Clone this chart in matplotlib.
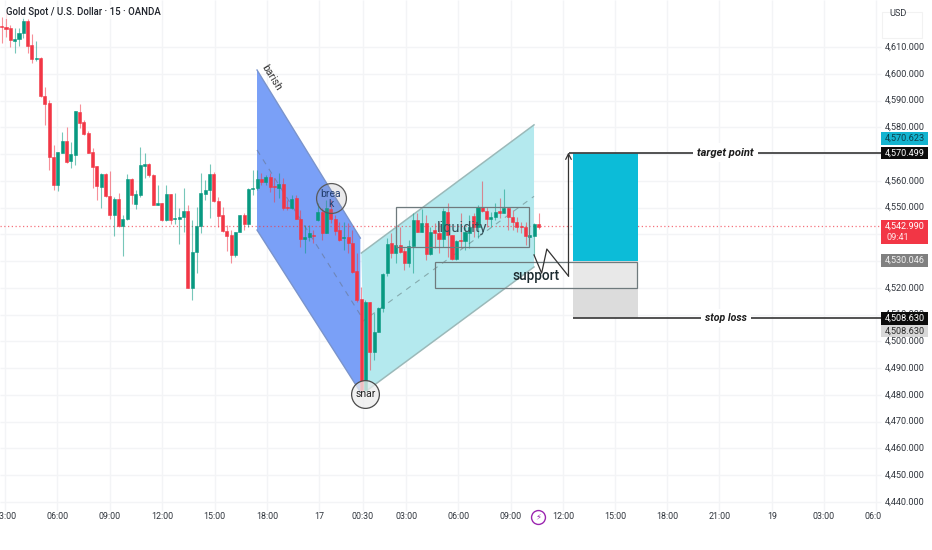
import matplotlib
matplotlib.use('Agg')
import matplotlib.pyplot as plt
from matplotlib.patches import Polygon, Rectangle

plt.rcParams['font.family'] = ['Roboto', 'DejaVu Sans']

# candles, 15 min bars
opens = [4617.8, 4617.3, 4617.1, 4612.4, 4613.1, 4615.4, 4619.8, 4610.6, 4605.4, 4605.9,
         4591.7, 4588.9, 4568.8, 4558.4, 4570.5, 4574.9, 4567.3, 4569.8, 4585.7, 4582.0,
         4577.7, 4570.8, 4565.5, 4557.8, 4562.5, 4554.4, 4547.1, 4553.2, 4543.1, 4545.8,
         4560.7, 4551.3, 4554.8, 4565.6, 4566.4, 4562.2, 4551.1, 4551.8, 4545.3, 4555.1,
         4545.6, 4545.7, 4546.6, 4548.8, 4519.8, 4533.3, 4543.1, 4555.1, 4556.6, 4562.5,
         4552.4, 4547.1, 4541.4, 4539.6, 4532.3, 4540.9, 4547.3, 4543.8, 4556.8, 4557.2,
         4560.7, 4559.4, 4561.5, 4558.0, 4557.2, 4558.8, 4550.1, 4549.7, 4553.4, 4545.7,
         4538.2, 4538.9, 4539.7, 4545.2, 4548.2, 4540.6, 4549.3, 4545.7, 4541.5, 4538.5,
         4538.9, 4536.9, 4526.3, 4515.8, 4481.8, 4514.7, 4495.9, 4503.6, 4512.5, 4525.4,
         4536.6, 4533.1, 4536.0, 4533.8, 4529.4, 4535.6, 4545.3, 4541.0, 4544.1, 4532.6,
         4541.6, 4540.6, 4538.1, 4548.5, 4539.7, 4530.6, 4537.7, 4537.4, 4540.4, 4546.8,
         4542.9, 4550.3, 4548.8, 4545.8, 4546.3, 4548.6, 4547.8, 4549.8, 4546.6, 4544.5,
         4543.1, 4542.8, 4539.1, 4539.4, 4543.7]
closes = [4617.6, 4616.8, 4612.6, 4612.9, 4615.4, 4619.8, 4610.4, 4605.4, 4605.8, 4591.7,
          4588.7, 4568.8, 4558.4, 4570.8, 4574.9, 4567.1, 4570.0, 4586.1, 4581.7, 4577.5,
          4570.5, 4565.3, 4558.0, 4562.5, 4554.3, 4547.1, 4553.2, 4543.1, 4545.8, 4560.7,
          4554.8, 4555.1, 4565.8, 4566.4, 4562.0, 4551.1, 4551.8, 4545.3, 4555.1, 4545.3,
          4546.0, 4546.6, 4548.8, 4519.8, 4533.3, 4543.1, 4555.3, 4556.6, 4562.5, 4552.3,
          4546.8, 4541.4, 4539.5, 4532.3, 4540.9, 4547.1, 4543.8, 4556.8, 4557.4, 4560.7,
          4559.4, 4561.5, 4557.8, 4557.6, 4558.8, 4549.7, 4549.7, 4553.1, 4545.7, 4538.2,
          4538.9, 4540.4, 4539.4, 4548.2, 4540.6, 4549.7, 4545.7, 4541.2, 4537.9, 4539.1,
          4536.9, 4526.0, 4515.4, 4481.8, 4514.7, 4495.9, 4503.6, 4512.5, 4525.2, 4536.4,
          4533.1, 4536.0, 4533.5, 4529.2, 4535.6, 4545.3, 4541.0, 4544.1, 4532.6, 4541.0,
          4540.4, 4538.1, 4548.8, 4539.7, 4530.6, 4537.6, 4537.4, 4541.0, 4542.9, 4542.9,
          4550.3, 4548.8, 4545.8, 4546.3, 4548.5, 4548.1, 4549.8, 4546.3, 4544.5, 4542.6,
          4542.6, 4539.4, 4539.6, 4543.8, 4542.9]
highs = [4621.3, 4623.2, 4618.2, 4617.0, 4617.0, 4621.3, 4620.3, 4614.7, 4612.4, 4606.1,
         4594.9, 4590.2, 4573.4, 4570.9, 4578.1, 4580.2, 4574.6, 4586.1, 4588.7, 4582.7,
         4578.7, 4572.1, 4565.6, 4562.8, 4563.0, 4563.8, 4554.1, 4555.6, 4547.2, 4562.5,
         4560.9, 4556.6, 4572.7, 4570.3, 4566.5, 4562.4, 4558.4, 4551.8, 4558.4, 4555.1,
         4555.3, 4549.7, 4557.4, 4551.0, 4545.3, 4550.3, 4562.8, 4560.3, 4566.3, 4563.4,
         4553.8, 4550.3, 4543.5, 4541.6, 4540.9, 4547.2, 4547.8, 4557.2, 4564.0, 4564.0,
         4562.8, 4562.2, 4562.8, 4560.9, 4562.8, 4560.9, 4552.8, 4554.7, 4554.7, 4549.1,
         4543.5, 4543.5, 4541.6, 4551.6, 4549.7, 4552.8, 4552.8, 4547.2, 4544.7, 4544.5,
         4544.1, 4541.6, 4532.9, 4520.4, 4515.4, 4514.8, 4510.5, 4513.0, 4525.4, 4538.5,
         4540.4, 4542.2, 4542.9, 4534.8, 4537.9, 4547.8, 4547.8, 4549.3, 4547.2, 4542.9,
         4544.1, 4544.7, 4549.7, 4551.6, 4539.7, 4537.9, 4547.8, 4542.9, 4547.2, 4547.8,
         4551.0, 4560.0, 4550.1, 4548.5, 4551.6, 4553.4, 4556.8, 4550.3, 4549.1, 4546.6,
         4544.7, 4544.7, 4539.6, 4544.1, 4547.8]
lows = [4611.6, 4613.9, 4610.1, 4607.6, 4610.4, 4613.2, 4607.6, 4604.1, 4604.9, 4591.4,
        4580.8, 4564.0, 4556.6, 4556.3, 4570.3, 4566.5, 4564.7, 4565.9, 4579.6, 4577.1,
        4570.5, 4557.4, 4552.8, 4549.7, 4554.1, 4545.6, 4539.4, 4542.9, 4531.9, 4545.3,
        4551.3, 4549.5, 4554.1, 4560.9, 4561.5, 4551.0, 4551.0, 4544.9, 4544.9, 4543.9,
        4543.9, 4536.2, 4541.0, 4519.8, 4515.4, 4525.4, 4540.4, 4552.8, 4546.0, 4552.2,
        4542.8, 4541.0, 4533.9, 4529.4, 4531.6, 4540.8, 4541.6, 4542.8, 4554.7, 4556.6,
        4558.4, 4558.4, 4555.9, 4552.2, 4553.4, 4549.1, 4549.1, 4549.3, 4545.6, 4535.4,
        4533.1, 4537.6, 4536.6, 4545.1, 4537.9, 4540.4, 4544.1, 4539.7, 4537.6, 4534.1,
        4532.9, 4525.4, 4514.8, 4481.8, 4481.8, 4489.3, 4493.0, 4503.6, 4511.1, 4524.4,
        4531.0, 4529.2, 4532.9, 4526.7, 4527.9, 4525.4, 4541.0, 4541.0, 4530.4, 4532.3,
        4534.8, 4533.1, 4535.4, 4531.6, 4530.4, 4530.4, 4534.8, 4534.1, 4534.8, 4539.1,
        4538.5, 4548.5, 4542.9, 4542.9, 4545.3, 4546.0, 4547.8, 4541.6, 4541.6, 4541.0,
        4540.4, 4536.0, 4539.1, 4532.3, 4541.9]

# axis labels
y_ticks = [4610, 4600, 4590, 4580, 4570, 4560, 4550, 4540, 4530, 4520, 4510, 4500, 4490, 4480, 4470, 4460, 4450, 4440]
y_hidden = [4570, 4540, 4530]   # sit fully behind the price flags
time_pos = [0.8, 12.85, 25.0, 37.1, 49.2, 61.3, 73.3, 83.4, 93.4, 105.4, 117.6, 129.6, 141.6, 153.7, 165.7, 177.9, 189.9, 201.9]
time_labels = ['03:00', '06:00', '09:00', '12:00', '15:00', '18:00', '17', '00:30', '03:00', '06:00', '09:00',
               '12:00', '15:00', '18:00', '21:00', '19', '03:00', '06:00']

# drawings (bar number, price)
bear_channel = [(58.97, 4601.4), (82.83, 4538.6), (82.83, 4481.1), (58.97, 4541.6)]
bear_mid = [(58.97, 4571.5), (82.83, 4509.9)]
bull_channel = [(83.05, 4533.0), (122.94, 4580.9), (122.94, 4527.8), (83.9, 4481.1)]
bull_mid = [(83.05, 4507.1), (122.94, 4554.2)]
liquidity_box = (91.0, 121.85, 4535.1, 4550.3)
support_box = (100.0, 146.8, 4519.8, 4529.5)
pos_x = (131.95, 146.9)
target, entry, stop = 4570.499, 4530.046, 4508.63
last_price = 4542.99
zigzag = [(122.94, 4532.3), (124.7, 4525.5), (125.9, 4534.5), (130.9, 4524.4), (130.9, 4570.6)]

RED = '#f23645'
GREEN = '#089981'
SCALE_X = 203.1   # left edge of price scale

fig = plt.figure(figsize=(9.32, 5.5), dpi=100)
ax = fig.add_axes([0, 0, 1, 1])
ax.set_xlim(-0.386, 214.85)
ax.set_ylim(4422.04, 4627.56)
ax.axis('off')

# grid
ax.hlines(y_ticks, -0.386, SCALE_X, color='#f3f4f6', lw=1, zorder=1)
ax.vlines(time_pos, 4436.5, 4627.56, color='#f3f4f6', lw=1, zorder=1)

# channels
ax.add_patch(Polygon(bear_channel, fc='#7aa0f7', ec='none', zorder=2))
ax.add_patch(Polygon(bull_channel, fc='#b4e9ee', ec='none', zorder=2))
for a, b in [(bear_channel[0], bear_channel[1]), (bear_channel[3], bear_channel[2])]:
    ax.plot([a[0], b[0]], [a[1], b[1]], color='#7a94cc', lw=1, zorder=2.5)
for a, b in [(bull_channel[0], bull_channel[1]), (bull_channel[3], bull_channel[2])]:
    ax.plot([a[0], b[0]], [a[1], b[1]], color='#9bb9b9', lw=1.1, zorder=2.5)
ax.plot(*zip(*bear_mid), color='#6f86b8', lw=0.8, ls=(0, (5, 5)), zorder=2.5)
ax.plot(*zip(*bull_mid), color='#86abae', lw=0.8, ls=(0, (5, 5)), zorder=2.5)

ax.hlines(last_price, -0.386, SCALE_X, color=RED, lw=0.9, ls=(0, (1, 2)), alpha=0.7, zorder=2.6)

# long position block
ax.add_patch(Rectangle((pos_x[0], entry), pos_x[1] - pos_x[0], target - entry, fc='#0cbcd8', ec='none', zorder=3))
ax.add_patch(Rectangle((pos_x[0], stop), pos_x[1] - pos_x[0], entry - stop, fc='#dcdcdc', ec='none', zorder=3))

# candles
for i in range(len(opens)):
    col = GREEN if closes[i] >= opens[i] else RED
    ax.vlines(i, lows[i], highs[i], color=col, lw=0.8, alpha=0.55, zorder=4)
    ax.bar(i, abs(closes[i] - opens[i]), bottom=min(opens[i], closes[i]), width=0.7,
           color=col, edgecolor=col, linewidth=0.4, zorder=4.2)

# boxes
x0, x1, y0, y1 = liquidity_box
ax.add_patch(Rectangle((x0, y0), x1 - x0, y1 - y0, fc='none', ec='#6f7a7d', lw=0.9, zorder=5))
x0, x1, y0, y1 = support_box
# support box only shows its fill where it crosses the stop zone
ax.add_patch(Rectangle((pos_x[0], y0), x1 - pos_x[0], y1 - y0, fc=(1, 1, 1, 0.35), ec='none', zorder=4.9))
ax.add_patch(Rectangle((x0, y0), x1 - x0, y1 - y0, fc='none', ec='#6f7a7d', lw=0.9, zorder=5))

# circles
ax.plot(76.06, 4553.6, 'o', ms=21.5, mfc=(0.55, 0.55, 0.6, 0.18), mec='#5a5a5a', mew=0.9, zorder=5)
ax.plot(83.98, 4480.2, 'o', ms=20, mfc=(0.93, 0.93, 0.93, 0.75), mec='#4a4a4a', mew=0.9, zorder=5)

# target / stop lines
ax.hlines(target, 131.0, SCALE_X, color='#444444', lw=1.3, zorder=5)
ax.hlines(stop, pos_x[0], SCALE_X, color='#444444', lw=1.3, zorder=5)
ax.plot(*zip(*zigzag[:-1]), color='#333333', lw=0.9, zorder=5)
ax.annotate('', xy=zigzag[-1], xytext=zigzag[-2],
            arrowprops=dict(arrowstyle='->', color='#333333', lw=0.9, shrinkA=0, shrinkB=0), zorder=5)

# drawing labels
label_style = dict(ha='center', va='center', zorder=6)
ax.text(167.06, target, 'target point', fontsize=8, style='italic', fontweight='bold', color='#1c1c1c',
        bbox=dict(fc='white', ec='none', pad=3), **label_style)
ax.text(167.3, stop, 'stop loss', fontsize=7.6, style='italic', fontweight='bold', color='#1c1c1c',
        bbox=dict(fc='white', ec='none', pad=3), **label_style)
ax.text(62.2, 4598.4, 'barish', fontsize=7.5, rotation=-58, color='#333333', rotation_mode='anchor', **label_style)
ax.text(76.06, 4553.3, 'brea\nk', fontsize=7.5, color='#24406f', linespacing=1.05, **label_style)
ax.text(83.98, 4480.4, 'snar', fontsize=7.5, color='#222222', **label_style)
ax.text(106.3, 4542.4, 'liquidity', fontsize=10.5, color='#37545c', **label_style)
ax.text(123.3, 4524.4, 'support', fontsize=9.8, color='#1c2b30', fontweight='medium', **label_style)

# title
ax.text(1.0, 4623.0, 'Gold Spot / U.S. Dollar · 15 · OANDA', fontsize=6.9, color='#20242c', fontweight='medium',
        va='center', ha='left', zorder=7, bbox=dict(fc='white', ec='none', alpha=0.75, pad=1))

# price scale
for t in y_ticks:
    if t not in y_hidden:
        ax.text(213.2, t, f'{t:,}.000', fontsize=6.6, color='#30353d', ha='right', va='center', zorder=7)
ax.add_patch(Rectangle((203.4, 4613.2), 9.2, 10.0, fc='white', ec='#f2f2f2', lw=0.8, zorder=7))
ax.text(204.9, 4622.5, 'USD', fontsize=6.6, color='#30353d', ha='left', va='center', zorder=8)

price_flags = [(4575.8, 4570.623, '#13b4d0', '#0d3f4a'),
               (4570.4, 4570.499, '#0c0c0c', 'white'),
               (4530.2, 4530.046, '#808080', '#f0f0f0'),
               (4508.6, 4508.630, '#0c0c0c', 'white'),
               (4503.9, 4508.630, '#d8d8d8', '#2a2a2a')]
for pos, val, fc, tc in price_flags:
    ax.add_patch(Rectangle((SCALE_X, pos - 2.35), 10.8, 4.7, fc=fc, ec='none', zorder=8))
    ax.text(213.2, pos, f'{val:,.3f}', fontsize=6.6, color=tc, ha='right', va='center', zorder=9)
ax.add_patch(Rectangle((SCALE_X, 4536.4), 10.8, 8.9, fc=RED, ec='none', zorder=8))
ax.text(213.2, 4543.0, f'{last_price:,.3f}', fontsize=6.6, color='white', ha='right', va='center', zorder=9)
ax.text(204.3, 4538.9, '09:41', fontsize=6.6, color='#ffe3e6', ha='left', va='center', zorder=9)

# time scale
for p, lab in zip(time_pos, time_labels):
    ax.text(p, 4434.4, lab, fontsize=6.4, color='#30353d', ha='center', va='center', zorder=5)
ax.add_patch(Rectangle((SCALE_X, 4422.04), 11.8, 16, fc='white', ec='none', zorder=6))

# session icon
ax.plot(123.9, 4434.4, 'o', ms=10, mfc='white', mec='#9c27b0', mew=1, zorder=7)
ax.text(123.9, 4434.4, '\u26a1', fontsize=6, color='#9c27b0', ha='center', va='center', family='DejaVu Sans', zorder=8)

fig.savefig('out.png', dpi=100)
